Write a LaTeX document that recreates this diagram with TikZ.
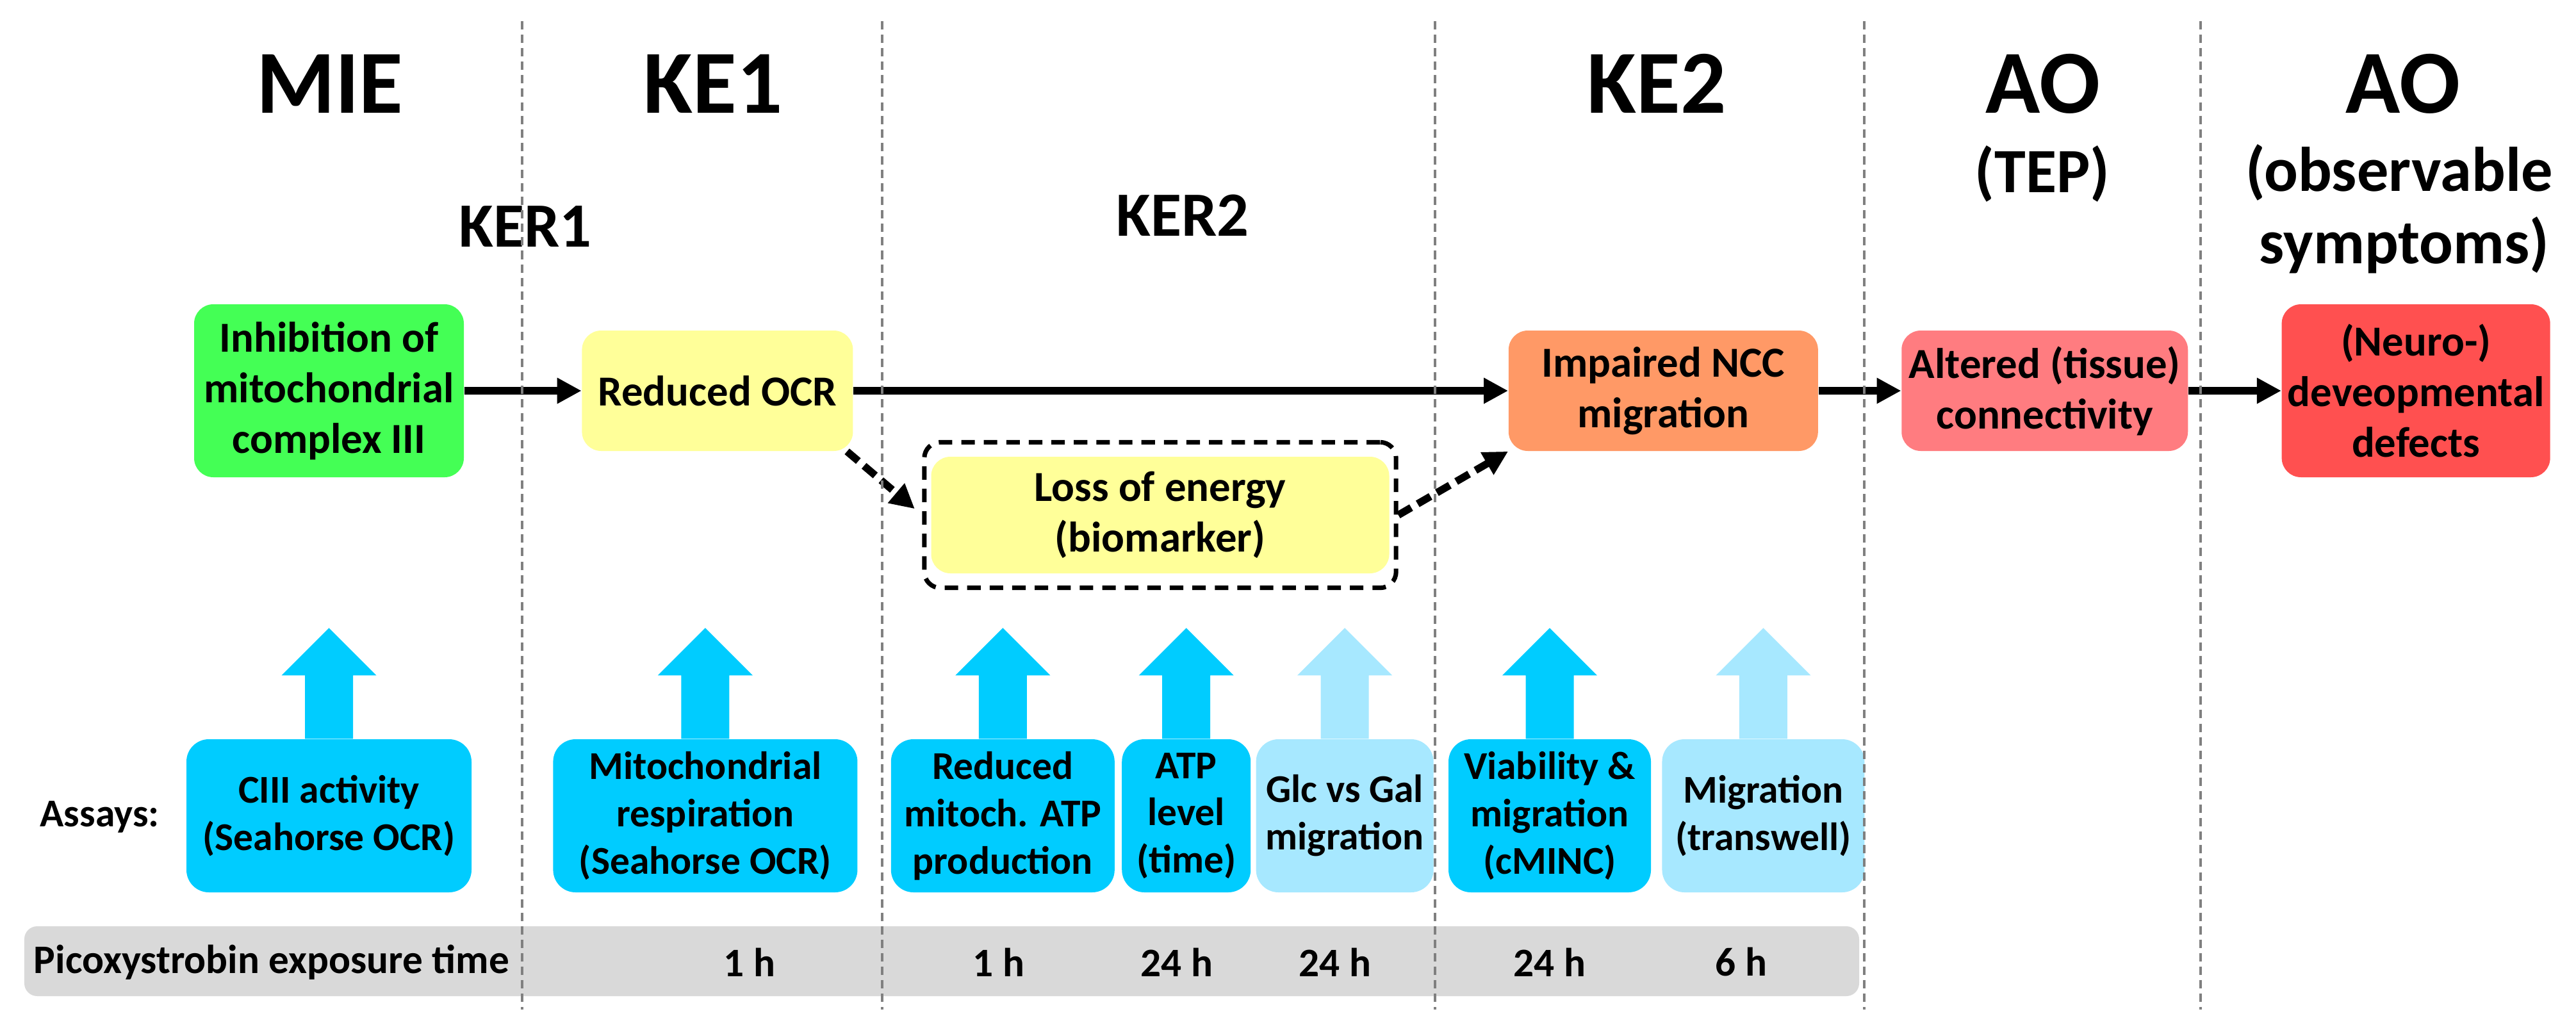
\documentclass[tikz,border=0pt]{standalone}
\usepackage{fontspec}
\setmainfont{Carlito}
\usetikzlibrary{arrows.meta,positioning,fit}
\definecolor{miegreen}{HTML}{44FF55}
\definecolor{keyellow}{HTML}{FFFF99}
\definecolor{keorange}{HTML}{FF9966}
\definecolor{aopink}{HTML}{FF7C80}
\definecolor{aored}{HTML}{FF5050}
\definecolor{assayblue}{HTML}{00CCFF}
\definecolor{assaylight}{HTML}{A7E8FF}
\definecolor{bargray}{HTML}{D9D9D9}
\definecolor{sepgray}{HTML}{808080}

\begin{document}
\begin{tikzpicture}[
  head/.style={anchor=base,inner sep=0pt,font=\fontsize{40}{40}\selectfont\bfseries},
  sub/.style={anchor=base,inner sep=0pt,font=\fontsize{28}{28}\selectfont\bfseries},
  evt/.style={rounded corners=3mm,align=center,inner sep=1pt,minimum height=1.88cm,font=\fontsize{19}{22.5}\selectfont\bfseries},
  assay/.style={rounded corners=3.5mm,align=center,inner sep=1pt,minimum height=2.39cm,fill=assayblue,font=\fontsize{17.5}{21}\selectfont\bfseries},
  frame/.style={draw,line width=2pt,dash pattern=on 6pt off 4pt,rounded corners=2.5mm,inner xsep=1mm,inner ysep=2.2mm},
  txt/.style={inner sep=0pt,font=\fontsize{18}{21}\selectfont\bfseries},
  arr/.style={-{Triangle[length=3.8mm,width=3.8mm]},line width=3.3pt},
  dasharr/.style={arr,dash pattern=on 6.6pt off 3.3pt},
  sep/.style={draw=sepgray,line width=1.1pt,dash pattern=on 3.7pt off 2.3pt}
]
\useasboundingbox (0,0) rectangle (40.21,-15.96);

% column headers
\node[head] (mie) at (5.15,-1.76) {MIE};
\node[head] (ke1) at (11.13,-1.76) {KE1};
\node[head] (ke2) at (25.86,-1.76) {KE2};
\node[head] (ao1) at (31.89,-1.76) {AO};
\node[sub] (tep) at (31.88,-3.00) {(TEP)};
\node[head] (ao2) at (37.51,-1.76) {AO};
\node[sub] (obs) at (37.45,-2.98) {(observable};
\node[sub] (sym) at (37.53,-4.11) {symptoms)};
\node[sub] (ker1) at (8.20,-3.85) {KER1};
\node[sub] (ker2) at (18.46,-3.68) {KER2};

% key events
\node[evt,fill=miegreen,minimum width=4.21cm,minimum height=2.7cm] (inhib) at (5.135,-6.10) {Inhibition of\\mitochondrial\\complex III};
\node[evt,fill=keyellow,minimum width=4.23cm,right=1.83cm of inhib] (ocr) {Reduced OCR};
\node[evt,fill=keorange,minimum width=4.83cm,right=10.22cm of ocr] (ncc) {Impaired NCC\\migration};
\node[evt,fill=aopink,minimum width=4.47cm,right=1.29cm of ncc] (conn) {Altered (tissue)\\connectivity};
\node[evt,fill=aored,minimum width=4.19cm,minimum height=2.7cm,right=1.45cm of conn] (defects) {(Neuro-)\\deveopmental\\defects};
\node[evt,fill=keyellow,minimum width=7.15cm,minimum height=1.82cm] (energy) at (18.11,-8.04) {Loss of energy\\(biomarker)};
\node[frame,fit=(energy)] (lossbox) {};

\draw[arr] (inhib) -- (ocr);
\draw[arr] (ocr) -- (ncc);
\draw[arr] (ncc) -- (conn);
\draw[arr] (conn) -- (defects);
\draw[dasharr,shorten >=1.5mm] ([xshift=-1mm]ocr.south east) -- (lossbox.west);
\draw[dasharr] (lossbox.east) -- (ncc.south west);

% assays
\node[txt,anchor=west,font=\fontsize{17.5}{21}\selectfont\bfseries] (assays) at (0.62,-12.75) {Assays:};
\node[assay,minimum width=4.45cm] (ciii) at (5.135,-12.735) {CIII activity\\(Seahorse OCR)};
\node[assay,minimum width=4.75cm,right=1.26cm of ciii] (resp) {Mitochondrial\\respiration\\(Seahorse OCR)};
\node[assay,minimum width=3.49cm,right=5.1mm of resp] (atpprod) {Reduced\\mitoch. ATP\\production};
\node[assay,minimum width=2.01cm,right=1mm of atpprod] (atplvl) {ATP\\level\\(time)};
\node[assay,fill=assaylight,minimum width=2.77cm,right=0.7mm of atplvl] (glcgal) {Glc vs Gal\\migration};
\node[assay,minimum width=3.16cm,right=2.2mm of glcgal] (cminc) {Viability \&\\migration\\(cMINC)};
\node[assay,fill=assaylight,minimum width=3.16cm,right=1.6mm of cminc] (transwell) {Migration\\(transwell)};

\foreach \b/\c in {ciii/assayblue,resp/assayblue,atpprod/assayblue,atplvl/assayblue,glcgal/assaylight,cminc/assayblue,transwell/assaylight}
  \fill[\c] ([xshift=-3.75mm]\b.north) -- ++(0,9.9mm) -- ++(-3.65mm,0) -- ++(7.4mm,7.4mm)
    -- ++(7.4mm,-7.4mm) -- ++(-3.65mm,0) -- ++(0,-9.9mm) -- cycle;

% exposure times
\node[fill=bargray,rounded corners=2mm,minimum width=28.64cm,minimum height=1.09cm,inner sep=0pt] (expo) at (14.70,-15.005) {};
\node[txt] (expolabel) at (4.24,-15.02) {Picoxystrobin exposure time};
\foreach \x/\t [count=\i] in {11.70/1 h,15.59/1 h,18.37/24 h,20.84/24 h,24.19/24 h,27.18/6 h}
  \node[txt] (time\i) at (\x,-15.02) {\t};

% column separators
\foreach \x in {8.15,13.77,22.40,29.10,34.35}
  \draw[sep] (\x,-0.33) -- (\x,-15.76);
\end{tikzpicture}
\end{document}
